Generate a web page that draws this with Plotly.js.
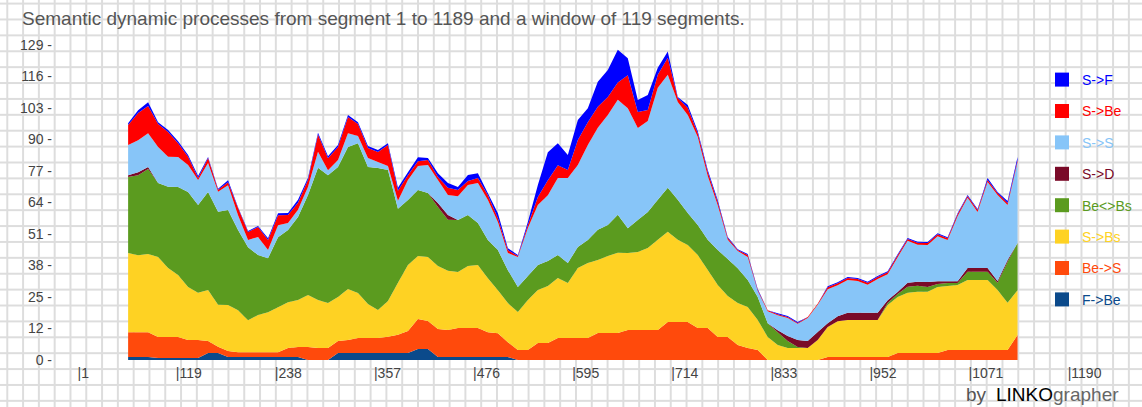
<!DOCTYPE html>
<html><head><meta charset="utf-8">
<script src="https://cdn.plot.ly/plotly-3.0.1.min.js"></script>
<style>
html,body{margin:0;padding:0;}
body{width:1142px;height:407px;overflow:hidden;background-color:#fff;
background-image:linear-gradient(to right,#dddddd 0,#dddddd 2px,transparent 2px),linear-gradient(to bottom,#dddddd 0,#dddddd 2px,transparent 2px);
background-size:15.8px 15.9px;background-position:6.3px 2.6px;}
#chart{width:1142px;height:407px;}
</style></head><body><div id="chart"></div>
<script>
// window centre segments
const segments=[60,72,84,96,108,120,132,144,156,168,180,192,204,216,228,240,252,264,276,288,300,312,324,336,348,360,372,384,396,408,420,432,444,456,468,480,492,504,516,528,540,552,564,576,588,600,612,624,636,648,660,672,684,696,708,720,732,744,756,768,780,792,804,816,828,840,852,864,876,888,900,912,924,936,948,960,972,984,996,1008,1020,1032,1044,1056,1068,1080,1092,1104,1116,1128];

const FtoBe=[1.2,1.2,1.2,0.8,0.8,0.8,0.8,0.8,2.9,2.9,1.2,1.2,1.2,1.2,1.2,1.2,1.2,1.2,0,0,0,2.9,2.9,2.9,2.9,2.9,2.9,2.9,2.9,4.5,4.5,1.2,1.2,1.2,1.2,1.2,1.2,1.2,1.2,0,0,0,0,0,0,0,0,0,0,0,0,0,0,0,0,0,0,0,0,0,0,0,0,0,0,0,0,0,0,0,0,0,0,0,0,0,0,0,0,0,0,0,0,0,0,0,0,0,0,0];
const BetoS=[10.2,10.2,10.2,8.6,8.6,8.6,7.4,7.4,4.9,2.5,2.5,2.0,2.0,2.0,2.0,2.0,3.7,4.1,5.3,4.9,4.9,4.9,5.3,6.1,6.1,6.1,6.6,7.4,9.0,12.3,11.5,11.5,11.1,11.9,11.9,11.9,10.2,9.8,6.1,4.1,4.1,7.0,7.0,9.0,9.0,9.0,9.0,11.1,11.1,11.1,12.3,12.3,12.3,12.3,15.6,15.6,15.6,13.1,13.1,9.4,9.4,6.1,4.9,4.1,0,0,0,0,0,0,1.2,1.2,1.2,1.2,1.2,1.2,1.2,2.9,2.9,2.9,2.9,2.9,4.1,4.1,4.1,4.1,4.1,4.1,4.1,10.2];
const StoBs=[32.4,31.5,32.0,32.8,28.3,25.4,21.7,19.3,20.9,17.2,18.8,17.2,13.1,15.2,16.4,18.4,18.8,19.3,21.3,19.7,18.4,18.0,20.9,18.4,13.9,11.5,14.7,21.3,27.0,25.8,26.2,25.8,24.2,22.9,25.4,25.8,22.1,17.6,16.0,15.6,20.5,21.7,23.3,24.6,22.5,28.7,30.7,29.9,31.5,32.8,31.5,31.9,33.6,36.9,36.9,33.6,31.5,29.9,23.8,21.3,16.8,17.2,16.8,12.3,9.4,6.1,4.9,4.9,4.9,8.2,12.3,14.7,15.2,15.2,15.2,15.2,21.3,22.9,24.6,25.0,25.0,27.0,26.2,26.6,28.7,28.7,28.7,24.6,19.3,18.4];
const BeBs=[31.1,32.8,34.8,30.3,33.2,36.0,38.9,36.0,40.1,38.1,38.9,32.8,29.9,24.6,22.1,28.7,29.5,34.0,41.0,54.1,52.4,53.2,58.1,61.4,56.1,58.1,53.6,30.3,26.6,27.0,26.2,24.2,20.9,21.3,20.9,17.2,15.6,16.4,13.5,10.2,9.8,10.2,10.2,9.4,8.2,8.6,9.4,12.3,12.7,15.6,10.2,13.1,14.7,16.4,18.0,16.4,13.1,12.3,12.3,14.3,15.2,14.3,11.1,9.4,5.7,5.3,2.9,0.4,0,0,0,0,0,0,0,0,0.8,1.2,2.5,2.5,2.0,1.2,1.2,0.8,3.3,3.3,3.3,2.9,16.8,19.3];
const StoD=[0.8,1.2,0.8,0,0,0,0,0,0,0,0,0,0,0,0,0,0,0,0,0,0,0,0,0,0,0,0,0,0,0,0,1.6,2.0,0,0,0,0,0,0,0,0,0,0,0,0,0,0,0,0,0,0,0,0,0,0,0,0,0,0,0,0,0,0,0,0,0.8,2.0,2.9,2.9,3.3,1.6,2.0,2.9,2.9,2.9,2.9,1.2,0.8,1.6,1.6,2.0,1.2,0.8,0.8,1.6,1.6,1.6,0.8,0.8,0];
const StoS=[12.3,13.1,13.9,14.7,12.3,12.3,11.1,10.2,11.9,8.2,10.2,6.1,2.9,7.4,3.3,4.9,2.9,2.9,3.3,6.6,2.0,2.9,5.7,2.9,3.7,2.5,1.6,3.3,8.2,9.8,11.5,9.4,8.2,9.8,12.3,16.4,16.4,11.5,7.0,12.3,19.7,24.6,27.0,31.5,34.8,33.6,38.9,41.8,45.0,47.1,49.1,37.7,37.3,45.9,46.3,40.1,40.1,36.0,26.2,18.4,7.8,7.0,9.4,2.5,4.9,6.1,7.4,6.6,9.4,11.1,13.9,12.7,13.5,13.1,11.5,13.9,10.6,14.3,17.2,15.2,15.2,18.4,16.8,26.6,28.7,22.9,35.2,35.2,22.5,33.2];
const StoBe=[8.2,11.1,11.1,9.4,10.2,5.7,3.3,0.8,2.0,0.8,1.2,2.9,3.3,4.1,4.1,4.1,3.3,2.9,2.9,7.0,4.9,5.3,6.6,4.9,4.1,4.1,8.6,4.1,2.0,2.0,2.0,1.2,2.9,2.5,1.6,2.0,2.0,1.6,1.2,0.4,1.2,3.3,6.1,5.3,3.3,10.2,9.4,8.6,7.4,7.0,13.5,6.6,4.5,5.3,7.0,1.6,2.9,1.6,1.6,1.2,0.8,0.4,0.8,0.4,0.4,0.4,0.4,0.4,0.4,0.4,0.8,0.8,0.8,0.8,0.8,0.8,0.8,0.8,0.8,0.8,0.8,0.8,0.8,0.8,0.8,0.8,0.8,0.8,0.8,0.8];
const StoF=[0.8,1.2,1.6,0.8,0.8,0.8,0.8,0.8,0.4,0.4,0.8,0.4,0.4,0.4,0.8,0.8,0.8,1.2,0.8,0.8,0.8,0.8,0.8,0.8,0.8,0.8,0.8,1.2,1.2,1.6,0.8,1.6,2.0,1.2,2.5,2.0,0.8,2.0,0.8,0.4,1.2,4.9,11.5,9.0,6.1,8.2,5.7,10.2,11.1,13.5,7.0,4.9,6.1,2.9,2.5,0.4,1.2,0.8,0.8,0.8,0.4,0.4,0.4,0.4,0,0.4,0.4,0.4,0,0,0.4,0.4,0.4,0.4,0.4,0.4,0.4,0.4,0.4,0.4,0.4,0.4,0.4,0.4,0.4,0.4,0.8,0.4,0.8,1.2];

// stacking order (bottom -> top)
const seriesNames=['F->Be','Be->S','S->Bs','Be<>Bs','S->D','S->S','S->Be','S->F'];
const seriesValues=[FtoBe,BetoS,StoBs,BeBs,StoD,StoS,StoBe,StoF];
const seriesColors=['#0b4a8b','#ff4a0c','#fed223','#5b9b1f','#7a0a28','#87c5f8','#ff0000','#0000ff'];

const xTickVals=[1,119,238,357,476,595,714,833,952,1071,1190];
const xTickText=['|1','|119','|238','|357','|476','|595','|714','|833','|952','|1071','|1190'];
const yTickVals=[0,12.9,25.8,38.7,51.6,64.5,77.4,90.3,103.2,116.1,129];
const yTickText=['0 -','12 -','25 -','38 -','51 -','64 -','77 -','90 -','103 -','116 -','129 -'];

function esc(s){return s.replace(/</g,'&lt;').replace(/>/g,'&gt;');}

const traces=[];
for(let i=0;i<seriesNames.length;i++){
  traces.push({
    type:'scatter',mode:'none',x:segments,y:seriesValues[i],
    stackgroup:'one',fillcolor:seriesColors[i],line:{width:0,shape:'linear'},
    name:seriesNames[i],showlegend:false,hoverinfo:'skip'
  });
}
// legend entries (top -> bottom)
for(let i=seriesNames.length-1;i>=0;i--){
  traces.push({
    type:'scatter',mode:'markers',x:[null],y:[null],
    marker:{symbol:'square',size:14,color:seriesColors[i],line:{width:0}},
    name:'<span style="color:'+seriesColors[i]+'">'+esc(seriesNames[i])+'</span>',
    legendgroup:'g'+i,showlegend:true,hoverinfo:'skip'
  });
}

const W=1040,H=331,L=60,B=360;
function px(x){return (x-L)/W;}
function py(y){return (B-y)/H;}

const layout={
  width:1142,height:407,
  margin:{l:60,r:42,t:29,b:47,pad:0,autoexpand:false},
  paper_bgcolor:'rgba(0,0,0,0)',plot_bgcolor:'rgba(0,0,0,0)',
  font:{family:'"Liberation Sans", Arial, sans-serif',color:'#444',size:14},
  title:{text:'Semantic dynamic processes from segment 1 to 1189 and a window of 119 segments.',
    x:22/1142,xanchor:'left',xref:'container',y:1-18/407,yanchor:'middle',yref:'container',
    font:{size:19,color:'#555',family:'"Liberation Sans", Arial, sans-serif'}},
  xaxis:{range:[-21.8,1227],tickvals:xTickVals,ticktext:xTickText,ticklabelposition:'outside right',
    ticks:'outside',ticklen:15,tickcolor:'rgba(0,0,0,0)',ticklabelshift:-2,showgrid:false,zeroline:false,showline:false,
    tickfont:{size:14,color:'#444'},fixedrange:true},
  yaxis:{range:[0,135.55],tickvals:yTickVals,ticktext:yTickText,ticks:'',ticklabelstandoff:7,showgrid:false,zeroline:false,
    showline:false,tickfont:{size:14,color:'#444'},fixedrange:true},
  showlegend:true,
  legend:{x:px(1042),xanchor:'left',y:py(64),yanchor:'top',bgcolor:'rgba(0,0,0,0)',borderwidth:0,
    font:{size:14},tracegroupgap:10.2,itemwidth:30,traceorder:'grouped'},
  annotations:[
    {text:'by',xref:'paper',yref:'paper',x:px(964),y:py(395),xanchor:'left',yanchor:'middle',showarrow:false,font:{size:19,color:'#555'}},
    {text:'<span style="color:#000">LINKO</span>grapher',xref:'paper',yref:'paper',x:px(994),y:py(395),xanchor:'left',yanchor:'middle',showarrow:false,font:{size:19,color:'#666'}}
  ]
};
Plotly.newPlot('chart',traces,layout,{displayModeBar:false,staticPlot:true});
</script></body></html>
